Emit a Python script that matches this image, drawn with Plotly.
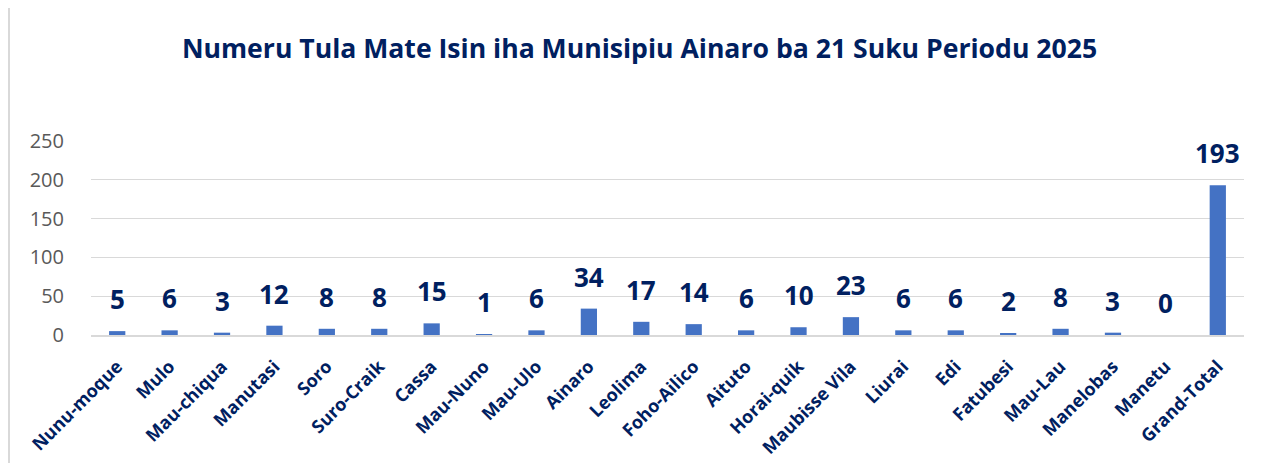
import plotly.graph_objects as go

categories = ["Nunu-moque", "Mulo", "Mau-chiqua", "Manutasi", "Soro", "Suro-Craik",
              "Cassa", "Mau-Nuno", "Mau-Ulo", "Ainaro", "Leolima", "Foho-Ailico",
              "Aituto", "Horai-quik", "Maubisse Vila", "Liurai", "Edi", "Fatubesi",
              "Mau-Lau", "Manelobas", "Manetu", "Grand-Total"]
values = [5, 6, 3, 12, 8, 8, 15, 1, 6, 34, 17, 14, 6, 10, 23, 6, 6, 2, 8, 3, 0, 193]
y_ticks = [0, 50, 100, 150, 200, 250]

title_text = "Numeru Tula Mate Isin iha Munisipiu Ainaro ba 21 Suku Periodu 2025"

NAVY = "#002060"
FONT = "Open Sans"

# page body has an 8px margin; figure sized so it fills the remaining window
W, H = 1263, 455

fig = go.Figure()
fig.add_trace(go.Bar(
    x=categories, y=values,
    marker=dict(color="#4472C4", line=dict(width=0)),
    width=0.31,
    hoverinfo="x+y",
))

for c, v in zip(categories, values):
    fig.add_annotation(x=c, y=v, text=f"<b>{v}</b>", showarrow=False,
                       yanchor="bottom", yshift=12,
                       font=dict(family=FONT, size=26, color=NAVY))

fig.add_shape(type="line", xref="paper", yref="paper",
              x0=-82 / 1153, x1=-82 / 1153, y0=-0.8, y1=1.8,
              line=dict(color="#d9d9d9", width=2))

fig.update_layout(
    width=W, height=H,
    margin=dict(l=83, r=27, t=133, b=128),
    paper_bgcolor="white", plot_bgcolor="white",
    title=dict(text=f"<b>{title_text}</b>", x=0.5, xref="container", xanchor="center",
               y=1 - 41 / H, yref="container", yanchor="middle",
               font=dict(family=FONT, size=26.6, color=NAVY)),
    showlegend=False,
    bargap=0.69,
    xaxis=dict(
        tickangle=-45, tickfont=dict(family=FONT, size=18, color=NAVY, weight="bold"),
        ticks="outside", ticklen=12, tickcolor="rgba(0,0,0,0)",
        showline=True, linecolor="#d9d9d9", linewidth=2,
        showgrid=False, automargin=False,
    ),
    yaxis=dict(
        range=[0, 250], tickvals=y_ticks,
        tickfont=dict(family=FONT, size=20, color="#595959"),
        showgrid=True, gridcolor="#d9d9d9", gridwidth=1,
        zeroline=False, showline=False, automargin=False,
        ticks="outside", ticklen=22, tickcolor="rgba(0,0,0,0)",
    ),
)

fig.write_html("out.html")
